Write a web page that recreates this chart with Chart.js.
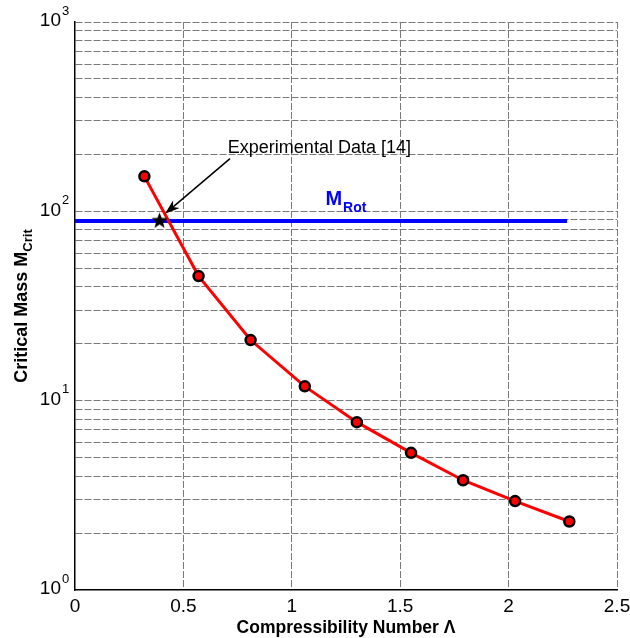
<!DOCTYPE html>
<html lang="en">
<head>
<meta charset="UTF-8">
<title>Critical Mass vs Compressibility Number</title>
<script src="https://cdn.jsdelivr.net/npm/chart.js"></script>
<style>
  html, body { margin: 0; padding: 0; background: #fff; }
</style>
</head>
<body>
<canvas id="massChart" width="630" height="638"></canvas>
<script>
// computed critical mass over compressibility number
const lambdaValues = [0.32, 0.57, 0.81, 1.06, 1.30, 1.55, 1.79, 2.03, 2.28];
const critMass = [153, 45.5, 20.9, 11.9, 7.7, 5.3, 3.8, 2.95, 2.3];

// rotor mass reference line
const rotLambda = [0, 2.27];
const rotMass = [89, 89];

// experimental point
const expLambda = [0.39];
const expMass = [89];

const xTicks = [0, 0.5, 1, 1.5, 2, 2.5];
const yTicks = [1, 2, 3, 4, 5, 6, 7, 8, 9,
                10, 20, 30, 40, 50, 60, 70, 80, 90,
                100, 200, 300, 400, 500, 600, 700, 800, 900, 1000];
const yDecades = [1, 10, 100, 1000];
const yExponents = ['0', '1', '2', '3'];

// annotation anchors (data coordinates)
const noteText = 'Experimental Data [14]';
const noteAt = { x: 0.705, y: 215 };
const arrowFrom = { x: 0.715, y: 190 };
const arrowTo = { x: 0.415, y: 97 };
const rotLabelAt = { x: 1.155, y: 115 };

const FONT = '"Liberation Sans", Arial, sans-serif';
const gridColor = '#7a7a7a';

function makeStar(r) {
    const c = document.createElement('canvas');
    const s = Math.ceil(r * 2 + 2);
    c.width = s; c.height = s;
    const g = c.getContext('2d');
    g.beginPath();
    for (let i = 0; i < 10; i++) {
        const rad = i % 2 === 0 ? r : r * 0.42;
        const a = -Math.PI / 2 + i * Math.PI / 5;
        const px = s / 2 + rad * Math.cos(a);
        const py = s / 2 + rad * Math.sin(a);
        if (i === 0) g.moveTo(px, py); else g.lineTo(px, py);
    }
    g.closePath();
    g.fillStyle = '#000';
    g.fill();
    return c;
}

const toPoints = (xs, ys) => xs.map((x, i) => ({ x: x, y: ys[i] }));

// custom text: tick labels with exponents, titles with subscripts, annotation
const textPlugin = {
    id: 'textPlugin',
    afterDraw(chart) {
        const ctx = chart.ctx;
        const xs = chart.scales.x;
        const ys = chart.scales.y;
        const area = chart.chartArea;
        ctx.save();
        ctx.fillStyle = '#000';

        // x tick labels
        ctx.font = '19px ' + FONT;
        ctx.textAlign = 'center';
        ctx.textBaseline = 'middle';
        xTicks.forEach(v => {
            ctx.fillText(String(v), xs.getPixelForValue(v), area.bottom + 17);
        });

        // y tick labels as powers of ten
        yDecades.forEach((v, i) => {
            const py = ys.getPixelForValue(v);
            ctx.font = '19px ' + FONT;
            ctx.textAlign = 'right';
            ctx.textBaseline = 'middle';
            ctx.fillText('10', area.left - 14, py - 1);
            ctx.font = '13px ' + FONT;
            ctx.textAlign = 'left';
            ctx.fillText(yExponents[i], area.left - 13, py - 11);
        });

        // x title
        ctx.font = 'bold 17.5px ' + FONT;
        ctx.textAlign = 'center';
        ctx.textBaseline = 'middle';
        ctx.fillText('Compressibility Number \u039B', (area.left + area.right) / 2, area.bottom + 38);

        // y title with subscript
        ctx.save();
        ctx.translate(22, (area.top + area.bottom) / 2);
        ctx.rotate(-Math.PI / 2);
        ctx.textAlign = 'left';
        ctx.textBaseline = 'middle';
        const mainFont = 'bold 18px ' + FONT;
        const subFont = 'bold 13px ' + FONT;
        ctx.font = mainFont;
        const wMain = ctx.measureText('Critical Mass M').width;
        ctx.font = subFont;
        const wSub = ctx.measureText('Crit').width;
        const start = -(wMain + wSub) / 2;
        ctx.font = mainFont;
        ctx.fillText('Critical Mass M', start, 0);
        ctx.font = subFont;
        ctx.fillText('Crit', start + wMain, 6);
        ctx.restore();

        // M_Rot label
        ctx.fillStyle = '#0000ff';
        ctx.textAlign = 'left';
        ctx.textBaseline = 'middle';
        const lx = xs.getPixelForValue(rotLabelAt.x);
        const ly = ys.getPixelForValue(rotLabelAt.y);
        ctx.font = 'bold 20px ' + FONT;
        ctx.fillText('M', lx, ly);
        const wM = ctx.measureText('M').width;
        ctx.font = 'bold 14px ' + FONT;
        ctx.fillText('Rot', lx + wM + 1, ly + 8);

        // annotation text and arrow
        ctx.fillStyle = '#000';
        ctx.font = '18px ' + FONT;
        ctx.fillText(noteText, xs.getPixelForValue(noteAt.x), ys.getPixelForValue(noteAt.y));

        const x1 = xs.getPixelForValue(arrowFrom.x), y1 = ys.getPixelForValue(arrowFrom.y);
        const x2 = xs.getPixelForValue(arrowTo.x), y2 = ys.getPixelForValue(arrowTo.y);
        const ang = Math.atan2(y2 - y1, x2 - x1);
        ctx.strokeStyle = '#000';
        ctx.lineWidth = 1.5;
        ctx.beginPath();
        ctx.moveTo(x1, y1);
        ctx.lineTo(x2 - 8 * Math.cos(ang), y2 - 8 * Math.sin(ang));
        ctx.stroke();
        const hl = 15, hw = 5;
        ctx.beginPath();
        ctx.moveTo(x2, y2);
        ctx.lineTo(x2 - hl * Math.cos(ang) + hw * Math.sin(ang), y2 - hl * Math.sin(ang) - hw * Math.cos(ang));
        ctx.lineTo(x2 - hl * 0.7 * Math.cos(ang), y2 - hl * 0.7 * Math.sin(ang));
        ctx.lineTo(x2 - hl * Math.cos(ang) - hw * Math.sin(ang), y2 - hl * Math.sin(ang) + hw * Math.cos(ang));
        ctx.closePath();
        ctx.fill();

        ctx.restore();
    }
};

new Chart(document.getElementById('massChart'), {
    type: 'scatter',
    data: {
        datasets: [
            {
                label: 'Experimental Data [14]',
                data: toPoints(expLambda, expMass),
                pointStyle: makeStar(8.5),
                pointRadius: 9
            },
            {
                label: 'M Crit',
                data: toPoints(lambdaValues, critMass),
                showLine: true,
                borderColor: '#ff0000',
                borderWidth: 3,
                pointRadius: 5,
                pointBackgroundColor: '#ff0000',
                pointBorderColor: '#000000',
                pointBorderWidth: 2.5
            },
            {
                label: 'M Rot',
                data: toPoints(rotLambda, rotMass),
                showLine: true,
                borderColor: '#0000ff',
                borderWidth: 4,
                pointRadius: 0
            }
        ]
    },
    options: {
        responsive: false,
        animation: false,
        devicePixelRatio: 1,
        layout: { padding: { top: 22, right: 13, left: 0, bottom: 0 } },
        plugins: {
            legend: { display: false },
            tooltip: { enabled: false }
        },
        scales: {
            x: {
                type: 'linear',
                min: 0,
                max: 2.5,
                afterBuildTicks: s => { s.ticks = xTicks.map(v => ({ value: v })); },
                afterFit: s => { s.height = 48; },
                ticks: { display: false },
                grid: {
                    color: c => c.tick && c.tick.value === 0 ? 'rgba(0,0,0,0)' : gridColor,
                    lineWidth: 1,
                    drawTicks: false
                },
                border: { color: '#000', width: 1.5, dash: [7, 2] }
            },
            y: {
                type: 'logarithmic',
                min: 1,
                max: 1000,
                afterBuildTicks: s => { s.ticks = yTicks.map(v => ({ value: v })); },
                afterFit: s => { s.width = 75; },
                ticks: { display: false },
                grid: {
                    color: c => c.tick && c.tick.value === 1 ? 'rgba(0,0,0,0)' : gridColor,
                    lineWidth: 1,
                    drawTicks: false
                },
                border: { color: '#000', width: 1.5, dash: [7, 2] }
            }
        }
    },
    plugins: [textPlugin]
});
</script>
</body>
</html>
